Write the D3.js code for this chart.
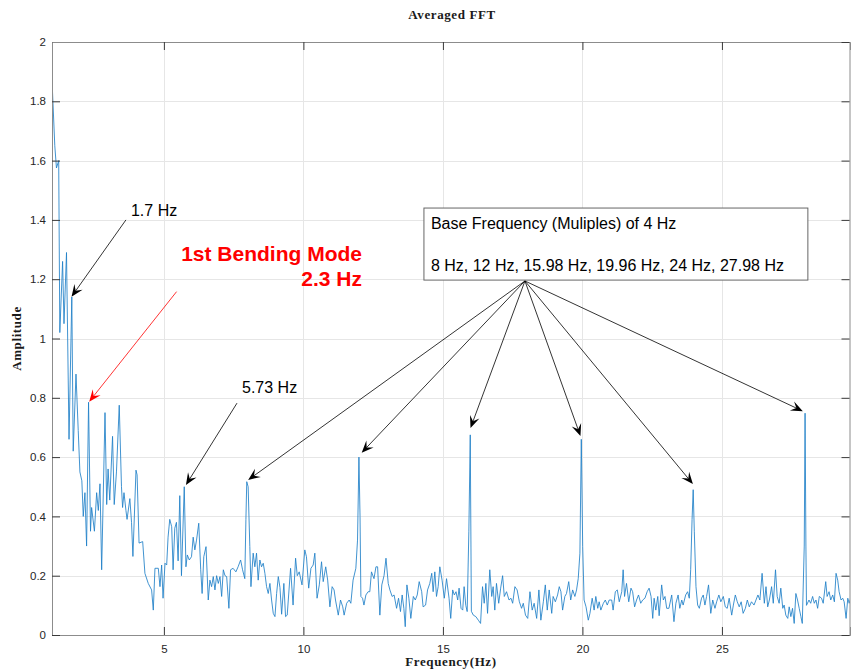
<!DOCTYPE html>
<html>
<head>
<meta charset="utf-8">
<script src="https://cdn.jsdelivr.net/npm/d3@7"></script>
<style>
  body { margin: 0; background: #fff; }
</style>
</head>
<body>
<svg id="chart" width="851" height="670"></svg>
<script>
// Averaged FFT spectrum (Hz, amplitude)
const freq = [
  1.00,1.09,1.15,1.23,1.27,1.37,1.42,1.51,1.60,1.70,1.75,1.85,1.93,1.99,2.06,2.11,2.17,2.23,2.30,2.37,
  2.41,2.51,2.59,2.65,2.71,2.77,2.89,2.95,3.00,3.06,3.16,3.22,3.30,3.40,3.48,3.52,3.57,3.64,3.68,3.78,
  3.84,3.89,4.00,4.04,4.11,4.24,4.32,4.44,4.56,4.62,4.68,4.80,4.86,4.92,4.97,5.04,5.10,5.15,5.21,5.28,
  5.33,5.39,5.45,5.51,5.57,5.63,5.73,5.79,5.84,5.91,5.99,6.05,6.11,6.17,6.25,6.32,6.37,6.43,6.51,6.59,
  6.65,6.71,6.77,6.83,6.89,6.95,7.01,7.07,7.13,7.19,7.25,7.33,7.39,7.48,7.58,7.66,7.75,7.82,7.90,7.94,
  7.97,8.02,8.08,8.12,8.20,8.26,8.32,8.38,8.44,8.50,8.56,8.62,8.68,8.74,8.80,8.86,8.92,8.98,9.04,9.10,
  9.16,9.22,9.30,9.36,9.42,9.54,9.63,9.72,9.78,9.85,9.95,10.05,10.11,10.19,10.27,10.35,10.41,10.49,10.57,10.65,
  10.71,10.80,10.87,10.95,11.03,11.10,11.15,11.25,11.33,11.41,11.46,11.55,11.64,11.70,11.78,11.88,11.94,11.99,12.03,12.06,
  12.12,12.17,12.24,12.32,12.38,12.44,12.53,12.60,12.66,12.74,12.81,12.89,12.96,13.04,13.10,13.18,13.25,13.34,13.41,13.48,
  13.54,13.60,13.65,13.71,13.78,13.85,13.94,14.01,14.08,14.15,14.24,14.29,14.38,14.45,14.53,14.60,14.65,14.71,14.77,14.83,
  14.89,14.97,15.05,15.13,15.22,15.28,15.35,15.41,15.47,15.53,15.58,15.65,15.71,15.76,15.82,15.87,15.93,15.98,16.02,16.09,
  16.18,16.27,16.35,16.42,16.48,16.54,16.60,16.68,16.75,16.80,16.86,16.92,17.00,17.07,17.14,17.20,17.28,17.37,17.44,17.50,
  17.58,17.66,17.74,17.82,17.88,17.96,18.04,18.12,18.20,18.27,18.36,18.44,18.51,18.60,18.67,18.74,18.81,18.90,18.95,19.03,
  19.11,19.17,19.23,19.29,19.37,19.43,19.51,19.58,19.65,19.73,19.79,19.85,19.91,19.96,20.01,20.06,20.13,20.21,20.27,20.35,
  20.42,20.48,20.55,20.60,20.66,20.75,20.82,20.89,20.96,21.05,21.10,21.18,21.25,21.32,21.41,21.46,21.51,21.58,21.66,21.74,
  21.80,21.87,21.94,22.01,22.09,22.16,22.24,22.32,22.39,22.46,22.52,22.57,22.63,22.70,22.75,22.84,22.90,22.96,23.02,23.10,
  23.20,23.28,23.35,23.43,23.49,23.56,23.61,23.70,23.77,23.83,23.88,23.93,23.97,24.01,24.07,24.13,24.19,24.27,24.33,24.39,
  24.45,24.52,24.60,24.67,24.75,24.81,24.89,24.96,25.05,25.12,25.19,25.26,25.35,25.41,25.48,25.55,25.62,25.69,25.76,25.84,
  25.91,25.98,26.06,26.15,26.22,26.29,26.36,26.44,26.52,26.58,26.64,26.70,26.78,26.84,26.92,26.98,27.05,27.11,27.18,27.23,
  27.29,27.36,27.41,27.47,27.53,27.59,27.65,27.71,27.77,27.83,27.88,27.95,27.98,28.01,28.03,28.12,28.18,28.25,28.31,28.37,
  28.43,28.49,28.57,28.63,28.72,28.77,28.84,28.90,28.97,29.03,29.09,29.15,29.20,29.27,29.33,29.38,29.45,29.51,29.56,29.60
];
const amp = [
  1.85,1.65,1.575,1.60,1.02,1.26,1.05,1.29,0.66,1.14,0.62,0.88,0.69,0.55,0.52,0.40,0.48,0.30,0.785,0.35,
  0.43,0.35,0.48,0.42,0.51,0.22,0.75,0.44,0.56,0.455,0.67,0.44,0.55,0.775,0.50,0.43,0.48,0.42,0.39,0.46,
  0.38,0.265,0.556,0.54,0.31,0.315,0.208,0.174,0.152,0.084,0.225,0.225,0.163,0.236,0.124,0.242,0.236,0.33,0.39,0.365,
  0.22,0.36,0.38,0.25,0.47,0.20,0.50,0.23,0.27,0.253,0.264,0.33,0.287,0.32,0.377,0.22,0.14,0.264,0.298,0.118,
  0.185,0.163,0.197,0.152,0.20,0.174,0.197,0.13,0.22,0.20,0.197,0.09,0.22,0.225,0.213,0.23,0.253,0.22,0.19,0.39,
  0.517,0.50,0.298,0.163,0.276,0.23,0.276,0.185,0.253,0.23,0.242,0.208,0.163,0.14,0.174,0.118,0.073,0.062,0.14,0.197,
  0.16,0.07,0.174,0.062,0.067,0.225,0.101,0.259,0.20,0.213,0.169,0.287,0.264,0.158,0.225,0.236,0.276,0.124,0.169,0.247,
  0.18,0.23,0.185,0.095,0.163,0.152,0.118,0.067,0.118,0.095,0.067,0.107,0.118,0.107,0.185,0.225,0.32,0.60,0.40,0.13,
  0.124,0.101,0.135,0.146,0.146,0.213,0.19,0.23,0.23,0.067,0.169,0.20,0.259,0.174,0.152,0.13,0.135,0.09,0.124,0.079,
  0.135,0.09,0.028,0.169,0.124,0.056,0.13,0.118,0.135,0.18,0.146,0.095,0.101,0.152,0.174,0.208,0.146,0.213,0.13,0.163,
  0.23,0.185,0.124,0.19,0.124,0.056,0.152,0.135,0.146,0.118,0.158,0.09,0.084,0.163,0.10,0.079,0.35,0.675,0.08,0.067,
  0.062,0.05,0.039,0.163,0.107,0.174,0.073,0.22,0.13,0.163,0.084,0.174,0.107,0.158,0.20,0.13,0.146,0.118,0.124,0.107,
  0.163,0.152,0.112,0.09,0.107,0.067,0.056,0.146,0.084,0.107,0.056,0.152,0.05,0.112,0.169,0.084,0.152,0.073,0.13,0.112,
  0.135,0.163,0.146,0.084,0.13,0.14,0.18,0.118,0.152,0.13,0.152,0.19,0.276,0.66,0.298,0.118,0.095,0.05,0.073,0.124,
  0.084,0.13,0.09,0.112,0.084,0.107,0.118,0.101,0.118,0.118,0.084,0.146,0.152,0.112,0.146,0.22,0.13,0.174,0.112,0.158,
  0.146,0.095,0.118,0.135,0.107,0.118,0.124,0.146,0.158,0.13,0.056,0.124,0.084,0.13,0.065,0.169,0.118,0.13,0.09,0.09,
  0.135,0.045,0.107,0.135,0.09,0.118,0.101,0.135,0.146,0.124,0.22,0.39,0.49,0.35,0.163,0.101,0.09,0.124,0.135,0.101,
  0.13,0.169,0.073,0.118,0.09,0.112,0.135,0.112,0.13,0.095,0.09,0.124,0.067,0.101,0.135,0.112,0.095,0.112,0.073,0.09,
  0.118,0.095,0.112,0.101,0.118,0.135,0.118,0.208,0.107,0.163,0.095,0.118,0.163,0.107,0.22,0.13,0.107,0.158,0.09,0.101,
  0.067,0.056,0.095,0.062,0.09,0.039,0.14,0.118,0.09,0.062,0.039,0.30,0.748,0.30,0.10,0.118,0.107,0.13,0.107,0.118,
  0.09,0.13,0.124,0.107,0.18,0.13,0.146,0.118,0.135,0.112,0.208,0.185,0.146,0.118,0.124,0.112,0.056,0.124,0.107,0.12
];

const xDomain = [0.99, 29.59];
const yDomain = [0, 2];
const xTicks = [5, 10, 15, 20, 25];
const yTicks = [0, 0.2, 0.4, 0.6, 0.8, 1, 1.2, 1.4, 1.6, 1.8, 2];

// annotations in data units: text anchor point, arrow start -> arrow tip
const peakNotes = [
  { label: "1.7 Hz",  tx: 3.82, ty: 1.413, from: [3.64, 1.40], to: [1.69, 1.141] },
  { label: "5.73 Hz", tx: 7.80, ty: 0.816, from: [7.62, 0.782], to: [5.79, 0.506] }
];
const bendNote = { line1: "1st Bending Mode", line2: "2.3 Hz", tx: 12.10, ty1: 1.261, ty2: 1.177,
                   from: [5.455, 1.158], to: [2.323, 0.787] };
const baseBox = { x0: 14.32, x1: 28.08, y0: 1.44, y1: 1.197, tx: 14.57, ty1: 1.369, ty2: 1.228,
                  line1: "Base Frequency (Muliples) of 4 Hz",
                  line2: "8 Hz, 12 Hz, 15.98 Hz, 19.96 Hz, 24 Hz, 27.98 Hz",
                  origin: [17.94, 1.194] };
const baseTips = [[8.02, 0.523], [12.09, 0.615], [15.99, 0.698], [19.93, 0.671], [23.96, 0.509], [27.90, 0.755]];

const SANS = '"Liberation Sans", Arial, Helvetica, sans-serif';
const SERIF = '"Liberation Serif", "Times New Roman", serif';

const margin = { left: 52, right: 1, top: 42, bottom: 35 };
const W = 851, H = 670;
const svg = d3.select('#chart');

const x = d3.scaleLinear().domain(xDomain).range([margin.left, W - margin.right]);
const y = d3.scaleLinear().domain(yDomain).range([H - margin.bottom, margin.top]);
const fmt = d => String(+d.toFixed(1));

// grid
const grid = svg.append('g').attr('stroke', '#e6e6e6').attr('stroke-width', 1);
grid.selectAll('.gx').data(xTicks).join('line')
  .attr('x1', d => Math.round(x(d)) + 0.5).attr('x2', d => Math.round(x(d)) + 0.5)
  .attr('y1', y(2)).attr('y2', y(0));
grid.selectAll('.gy').data(yTicks).join('line')
  .attr('y1', d => Math.round(y(d)) + 0.5).attr('y2', d => Math.round(y(d)) + 0.5)
  .attr('x1', x.range()[0]).attr('x2', x.range()[1]);

// spectrum line
svg.append('clipPath').attr('id', 'clip').append('rect')
  .attr('x', x.range()[0]).attr('y', y(2)).attr('width', x.range()[1] - x.range()[0]).attr('height', y(0) - y(2));
const line = d3.line().x((d, i) => x(freq[i])).y(d => y(d));
svg.append('path').datum(amp)
  .attr('clip-path', 'url(#clip)')
  .attr('d', line)
  .attr('fill', 'none')
  .attr('stroke', '#1f80c8')
  .attr('stroke-width', 0.85)
  .attr('stroke-linejoin', 'round');

// axes (MATLAB-ish: ticks pointing inward, box)
const tickLen = 8;
const xAxis = d3.axisBottom(x).tickValues(xTicks).tickSize(-tickLen).tickPadding(10).tickFormat(fmt);
const yAxis = d3.axisLeft(y).tickValues(yTicks).tickSize(-tickLen).tickPadding(6).tickFormat(fmt);
const xTop = d3.axisTop(x).tickValues(xTicks).tickSize(-tickLen).tickFormat('');
const yRight = d3.axisRight(y).tickValues(yTicks).tickSize(-tickLen).tickFormat('');

function styleAxis(g) {
  g.select('.domain').attr('stroke', '#8c8c8c');
  g.selectAll('.tick line').attr('stroke', '#3a3a3a');
  g.selectAll('.tick text').attr('fill', '#262626').style('font-size', '11.5px').style('font-family', SANS);
}
svg.append('g').attr('transform', `translate(0,${y(0)})`).call(xAxis).call(styleAxis);
svg.append('g').attr('transform', `translate(${x.range()[0]},0)`).call(yAxis).call(styleAxis);
svg.append('g').attr('transform', `translate(0,${y(2)})`).call(xTop).call(styleAxis);
svg.append('g').attr('transform', `translate(${x.range()[1] - 0.5},0)`).call(yRight).call(styleAxis);

// titles (bold serif, like the TeX-rendered MATLAB labels)
function serifLabel(sel) {
  return sel.attr('text-anchor', 'middle').attr('fill', '#1a1a1a')
    .style('font-family', SERIF).style('font-weight', 'bold').style('font-size', '13px').style('letter-spacing', '0.6px');
}
svg.append('text').attr('x', 452).attr('y', 19).call(serifLabel).text('Averaged FFT');
svg.append('text').attr('x', 451).attr('y', 666).call(serifLabel).text('Frequency(Hz)');
svg.append('text').attr('transform', `translate(21,${(y(0) + y(2)) / 2}) rotate(-90)`).call(serifLabel).text('Amplitude');

// arrow helper: line + filled concave head
function arrow(g, p0, p1, color) {
  const x0 = x(p0[0]), y0 = y(p0[1]), x1 = x(p1[0]), y1 = y(p1[1]);
  const ang = Math.atan2(y1 - y0, x1 - x0);
  const L = 12, hw = 5;
  g.append('line')
    .attr('x1', x0).attr('y1', y0)
    .attr('x2', x1 - Math.cos(ang) * L * 0.6).attr('y2', y1 - Math.sin(ang) * L * 0.6)
    .attr('stroke', color).attr('stroke-width', 0.8);
  g.append('path')
    .attr('d', `M0,0L${-L},${-hw}L${-L * 0.6},0L${-L},${hw}Z`)
    .attr('transform', `translate(${x1},${y1}) rotate(${ang * 180 / Math.PI})`)
    .attr('fill', color);
}

const notes = svg.append('g').style('font-family', SANS);
peakNotes.forEach(n => {
  notes.append('text').attr('x', x(n.tx)).attr('y', y(n.ty)).style('font-size', '16px').attr('fill', '#000').text(n.label);
  arrow(notes, n.from, n.to, '#000');
});

notes.append('text').attr('x', x(bendNote.tx)).attr('y', y(bendNote.ty1)).attr('text-anchor', 'end')
  .style('font-size', '21px').style('font-weight', 'bold').attr('fill', '#ff0000').text(bendNote.line1);
notes.append('text').attr('x', x(bendNote.tx)).attr('y', y(bendNote.ty2)).attr('text-anchor', 'end')
  .style('font-size', '21px').style('font-weight', 'bold').attr('fill', '#ff0000').text(bendNote.line2);
arrow(notes, bendNote.from, bendNote.to, '#ff0000');

notes.append('rect')
  .attr('x', x(baseBox.x0)).attr('y', y(baseBox.y0))
  .attr('width', x(baseBox.x1) - x(baseBox.x0)).attr('height', y(baseBox.y1) - y(baseBox.y0))
  .attr('fill', '#fff').attr('stroke', '#666').attr('stroke-width', 1);
notes.append('text').attr('x', x(baseBox.tx)).attr('y', y(baseBox.ty1)).style('font-size', '16px').attr('fill', '#000').text(baseBox.line1);
notes.append('text').attr('x', x(baseBox.tx)).attr('y', y(baseBox.ty2)).style('font-size', '16px').attr('fill', '#000').text(baseBox.line2);
baseTips.forEach(t => arrow(notes, baseBox.origin, t, '#000'));
</script>
</body>
</html>
